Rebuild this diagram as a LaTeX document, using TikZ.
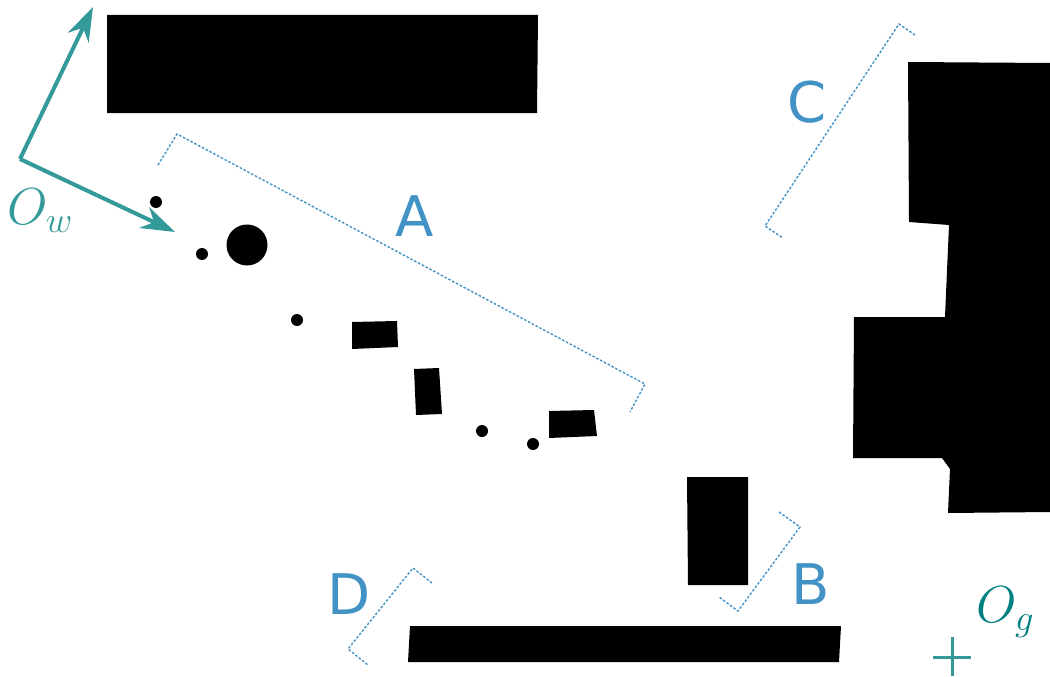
\RequirePackage{fix-cm}
\documentclass[tikz,border=0pt]{standalone}
\usepackage{fontspec}
\newfontfamily\labfont{DejaVu Sans}
\usetikzlibrary{arrows.meta,calc}
\definecolor{brk}{RGB}{66,146,198}
\definecolor{axc}{RGB}{51,153,153}
\definecolor{ogc}{RGB}{0,128,128}
\tikzset{
  obst/.style={fill=black},
  bracket/.style={brk, line width=1.4pt, dash pattern=on 2.5pt off 1.8pt},
  lab/.style={text=brk, font=\labfont\fontsize{56}{58}\selectfont, inner sep=0pt},
  axis/.style={axc, line width=4pt, -{Stealth[length=34pt,width=23pt,inset=11pt]}},
  frame/.style={font=\fontsize{52}{54}\selectfont, inner sep=0pt}
}
\begin{document}
\begin{tikzpicture}[x=1pt,y=-1pt]
\useasboundingbox (0,0) rectangle (1050,677);
% obstacles
\fill[obst] (107,15) -- (538,15) -- (537,113) -- (107,113) -- cycle;
\fill[obst] (410,626) -- (841,626) -- (839,662) -- (408,662) -- cycle;
\fill[obst] (687,477) -- (748,477) -- (748,585) -- (688,585) -- cycle;
\fill[obst] (908,62) -- (1050,63) -- (1050,512) -- (948,513) -- (950,469) -- (942,458)
  -- (853,458) -- (854,317) -- (945,317) -- (949,225) -- (909,222) -- cycle;
\fill[obst] (352,322) -- (397,321) -- (398,347) -- (352,349) -- cycle;
\fill[obst] (414,369) -- (439,368) -- (442,414) -- (416,415) -- cycle;
\fill[obst] (549,411) -- (594,410) -- (597,436) -- (549,438) -- cycle;
\fill[obst] (156,202) circle (6);
\fill[obst] (202,254) circle (6);
\fill[obst] (247,245) circle (20.5);
\fill[obst] (297,320) circle (6);
\fill[obst] (482,431) circle (6);
\fill[obst] (533,444) circle (6);
% brackets
\coordinate (a1) at (158,165); \coordinate (a2) at (177,134);
\coordinate (a3) at (645,384); \coordinate (a4) at (630,412);
\draw[bracket] (a1) -- (a2) -- (a3) -- (a4);
\coordinate (b1) at (779,512); \coordinate (b2) at (800,527);
\coordinate (b3) at (738,611); \coordinate (b4) at (719,597);
\draw[bracket] (b1) -- (b2) -- (b3) -- (b4);
\coordinate (c1) at (915,35); \coordinate (c2) at (899,24);
\coordinate (c3) at (765,226); \coordinate (c4) at (783,238);
\draw[bracket] (c1) -- (c2) -- (c3) -- (c4);
\coordinate (d1) at (432,583); \coordinate (d2) at (413,568);
\coordinate (d3) at (348,649); \coordinate (d4) at (368,665);
\draw[bracket] (d1) -- (d2) -- (d3) -- (d4);
% labels
\node[lab] (labA) at (415,216) {A};
\node[lab] (labB) at (811,584) {B};
\node[lab] (labC) at (807,102) {C};
\node[lab] (labD) at (349,594) {D};
% world frame
\coordinate (ow) at (20,159);
\coordinate (owy) at (93,7);
\coordinate (owx) at (175,232);
\draw[axis] (ow) -- (owy);
\draw[axis] (ow) -- (owx);
\node[frame, text=axc] (lw) at (40,211) {$O_w$};
% global frame
\coordinate (og) at (952,657);
\draw[axc, line width=3pt] ($(og)+(-19,0)$) -- ($(og)+(19,0)$);
\draw[axc, line width=3pt] ($(og)+(0,-20)$) -- ($(og)+(0,19)$);
\node[frame, text=ogc] (lg) at (1005,612) {$O_g$};
\end{tikzpicture}
\end{document}
